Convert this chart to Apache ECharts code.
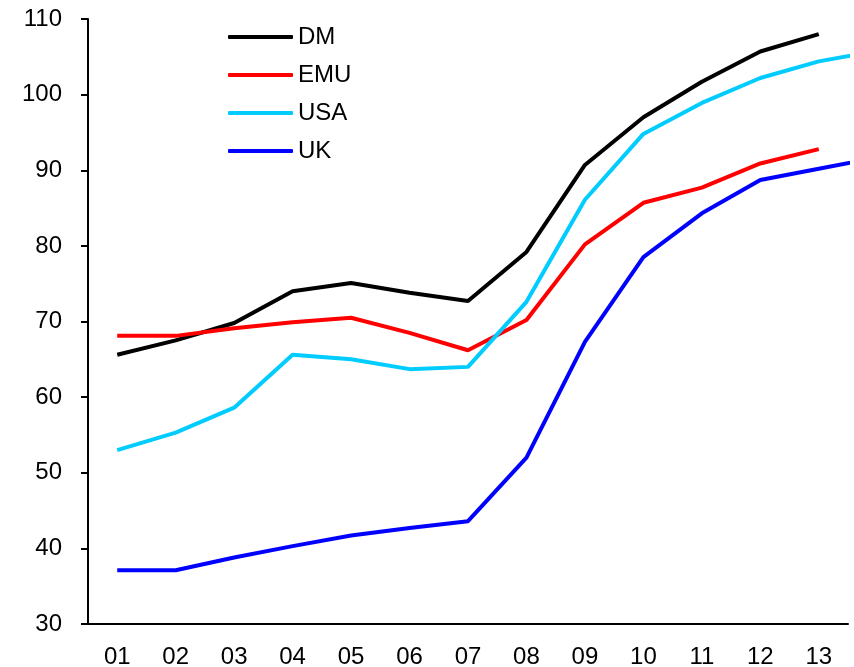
<!DOCTYPE html>
<html>
<head>
<meta charset="utf-8">
<script src="https://cdn.jsdelivr.net/npm/echarts@6/dist/echarts.min.js"></script>
<style>
    html, body { margin: 0; padding: 0; background: #fff; }
    #main { width: 854px; height: 667px; }
</style>
</head>
<body>
<div id="main"></div>
<script>
    // years shown on the axis (the last point of USA / UK runs off the right edge)
    var years = ['01', '02', '03', '04', '05', '06', '07', '08', '09', '10', '11', '12', '13'];
    var dm  = [65.6, 67.5, 69.8, 74.0, 75.1, 73.8, 72.7, 79.2, 90.7, 97.0, 101.7, 105.7, 108.0];
    var emu = [68.1, 68.1, 69.1, 69.9, 70.5, 68.5, 66.2, 70.2, 80.2, 85.7, 87.7, 90.9, 92.8];
    var usa = [53.0, 55.3, 58.6, 65.6, 65.0, 63.7, 64.0, 72.6, 86.1, 94.8, 98.9, 102.2, 104.4, 105.8];
    var uk  = [37.1, 37.1, 38.8, 40.3, 41.7, 42.7, 43.6, 52.0, 67.3, 78.5, 84.3, 88.7, 90.2, 91.7];

    var myChart = echarts.init(document.getElementById('main'));

    function line(name, color, data) {
        return {
            name: name,
            type: 'line',
            data: data,
            symbol: 'none',
            clip: false,
            lineStyle: { color: color, width: 4 },
            itemStyle: { color: color }
        };
    }

    myChart.setOption({
        animation: false,
        textStyle: { fontFamily: 'Liberation Sans, Arial, sans-serif' },
        grid: { left: 88, top: 19, right: 6, bottom: 43, outerBoundsMode: 'none', containLabel: false },
        legend: {
            orient: 'vertical',
            left: 228,
            top: 25,
            padding: 0,
            icon: 'roundRect',
            itemWidth: 65,
            itemHeight: 4,
            itemGap: 14,
            textStyle: { fontSize: 24, color: '#000', lineHeight: 24 },
            data: ['DM', 'EMU', 'USA', 'UK']
        },
        xAxis: {
            type: 'category',
            data: years,
            max: 12,
            boundaryGap: true,
            axisLine: { lineStyle: { color: '#000', width: 2 } },
            axisTick: { length: 8, lineStyle: { color: '#000', width: 2 } },
            axisLabel: { fontSize: 24, color: '#000', margin: 21 },
            splitLine: { show: false }
        },
        yAxis: {
            type: 'value',
            min: 30,
            max: 110,
            interval: 10,
            axisLine: { show: true, lineStyle: { color: '#000', width: 2 } },
            axisTick: { show: true, length: 7, lineStyle: { color: '#000', width: 2 } },
            axisLabel: { fontSize: 24, color: '#000', margin: 26 },
            splitLine: { show: false }
        },
        series: [
            line('DM', '#000000', dm),
            line('EMU', '#ff0000', emu),
            line('USA', '#00ccff', usa),
            line('UK', '#0000ff', uk)
        ]
    });
</script>
</body>
</html>
